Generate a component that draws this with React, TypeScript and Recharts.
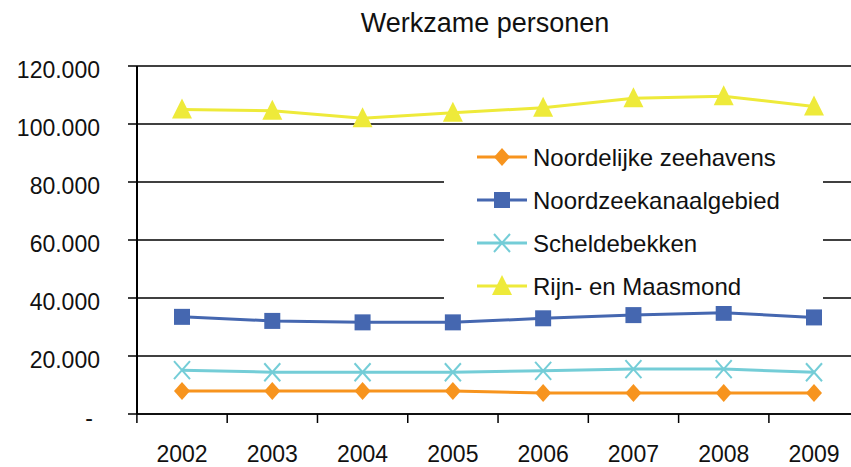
import React from 'react';
import { LineChart, Line, XAxis, YAxis, CartesianGrid, Legend } from 'recharts';

const years = ['2002', '2003', '2004', '2005', '2006', '2007', '2008', '2009'];
const noordelijkeZeehavens = [7900, 7900, 7900, 7900, 7250, 7250, 7250, 7250];
const noordzeekanaalgebied = [33500, 32100, 31600, 31600, 33000, 34100, 34900, 33300];
const scheldebekken = [15100, 14400, 14400, 14400, 14900, 15500, 15500, 14400];
const rijnMaasmond = [105000, 104600, 102000, 103900, 105600, 108900, 109600, 106000];
const yTicks = [0, 20000, 40000, 60000, 80000, 100000, 120000];

type Shape = 'diamond' | 'square' | 'cross' | 'triangle';

const series: { key: string; name: string; color: string; shape: Shape; values: number[] }[] = [
  { key: 'nz', name: 'Noordelijke zeehavens', color: '#F7941E', shape: 'diamond', values: noordelijkeZeehavens },
  { key: 'nzk', name: 'Noordzeekanaalgebied', color: '#4567B0', shape: 'square', values: noordzeekanaalgebied },
  { key: 'sb', name: 'Scheldebekken', color: '#74CDD7', shape: 'cross', values: scheldebekken },
  { key: 'rm', name: 'Rijn- en Maasmond', color: '#EEEA3A', shape: 'triangle', values: rijnMaasmond },
];

const data = years.map((year, i) => {
  const row: Record<string, string | number> = { year };
  series.forEach((s) => {
    row[s.key] = s.values[i];
  });
  return row;
});

const FONT = '"Liberation Sans", Arial, sans-serif';
const HALF_BAND = 45.1;

function Marker({ cx, cy, shape, color }: { cx: number; cy: number; shape: Shape; color: string }) {
  if (shape === 'diamond') {
    return <polygon points={`${cx},${cy - 9} ${cx + 8},${cy} ${cx},${cy + 9} ${cx - 8},${cy}`} fill={color} />;
  }
  if (shape === 'square') {
    return <rect x={cx - 8} y={cy - 8} width={16} height={16} fill={color} />;
  }
  if (shape === 'cross') {
    return (
      <g stroke={color} strokeWidth={2}>
        <line x1={cx - 8} y1={cy - 9} x2={cx + 8} y2={cy + 9} />
        <line x1={cx - 8} y1={cy + 9} x2={cx + 8} y2={cy - 9} />
      </g>
    );
  }
  return <polygon points={`${cx},${cy - 11} ${cx + 10},${cy + 9} ${cx - 10},${cy + 9}`} fill={color} />;
}

const formatNumber = (v: number) => String(v).replace(/\B(?=(\d{3})+(?!\d))/g, '.');

function YTick(props: any) {
  const { x, y, payload } = props;
  const v = payload.value as number;
  return (
    <g>
      <line x1={x - 9} y1={y} x2={x} y2={y} stroke="#000" strokeWidth={1.5} />
      <text x={v === 0 ? x - 44 : x - 37} y={y + 12} textAnchor="end" fontSize={23} fontFamily={FONT} fill="#111">
        {v === 0 ? '-' : formatNumber(v)}
      </text>
    </g>
  );
}

function XTick(props: any) {
  const { x, y, payload, index } = props;
  return (
    <g>
      <line x1={x - HALF_BAND} y1={y} x2={x - HALF_BAND} y2={y + 9} stroke="#000" strokeWidth={1.5} />
      {index === years.length - 1 && (
        <line x1={x + HALF_BAND} y1={y} x2={x + HALF_BAND} y2={y + 9} stroke="#000" strokeWidth={1.5} />
      )}
      <text x={x} y={y + 48} textAnchor="middle" fontSize={23} fontFamily={FONT} fill="#111">
        {payload.value}
      </text>
    </g>
  );
}

function LegendBox() {
  return (
    <svg width={379} height={170} style={{ display: 'block', background: '#fff' }}>
      {series.map((s, i) => {
        const cy = 21 + i * 43;
        return (
          <g key={s.key}>
            <line x1={33} y1={cy} x2={83} y2={cy} stroke={s.color} strokeWidth={3} />
            <Marker cx={58} cy={cy} shape={s.shape} color={s.color} />
            <text x={89} y={cy + 9} fontSize={24} fontFamily={FONT} fill="#111">
              {s.name}
            </text>
          </g>
        );
      })}
    </svg>
  );
}

export default function App() {
  return (
    <div
      style={{
        position: 'fixed',
        left: 0,
        top: 0,
        width: 851,
        height: 467,
        overflow: 'hidden',
        background: '#fff',
        fontFamily: FONT,
      }}
    >
      <div
        style={{
          position: 'absolute',
          left: 485,
          top: 10,
          transform: 'translateX(-50%)',
          fontSize: 27,
          lineHeight: '27px',
          whiteSpace: 'nowrap',
          color: '#111',
          zIndex: 2,
        }}
      >
        Werkzame personen
      </div>
      <LineChart width={859} height={467} data={data} margin={{ top: 66, right: 0, left: 0, bottom: 0 }}>
        <CartesianGrid vertical={false} stroke="#000" strokeWidth={1.5} />
        <XAxis
          dataKey="year"
          height={53}
          padding={{ left: 45, right: 45 }}
          axisLine={{ stroke: '#000', strokeWidth: 1.5 }}
          tickLine={false}
          tickSize={0}
          tickMargin={0}
          tick={<XTick />}
          interval={0}
        />
        <YAxis
          width={137}
          domain={[0, 120000]}
          ticks={yTicks}
          axisLine={{ stroke: '#000', strokeWidth: 2 }}
          tickLine={false}
          tickSize={0}
          tickMargin={0}
          tick={<YTick />}
          interval={0}
        />
        <Legend
          layout="horizontal"
          verticalAlign="middle"
          align="center"
          wrapperStyle={{ position: 'absolute', left: 444, top: 136, width: 379, height: 170, margin: 0 }}
          content={() => <LegendBox />}
        />
        {series.map((s) => (
          <Line
            key={s.key}
            dataKey={s.key}
            name={s.name}
            stroke={s.color}
            strokeWidth={3}
            isAnimationActive={false}
            dot={(p: any) => <Marker key={`${s.key}-${p.index}`} cx={p.cx} cy={p.cy} shape={s.shape} color={s.color} />}
            activeDot={false}
          />
        ))}
      </LineChart>
    </div>
  );
}
